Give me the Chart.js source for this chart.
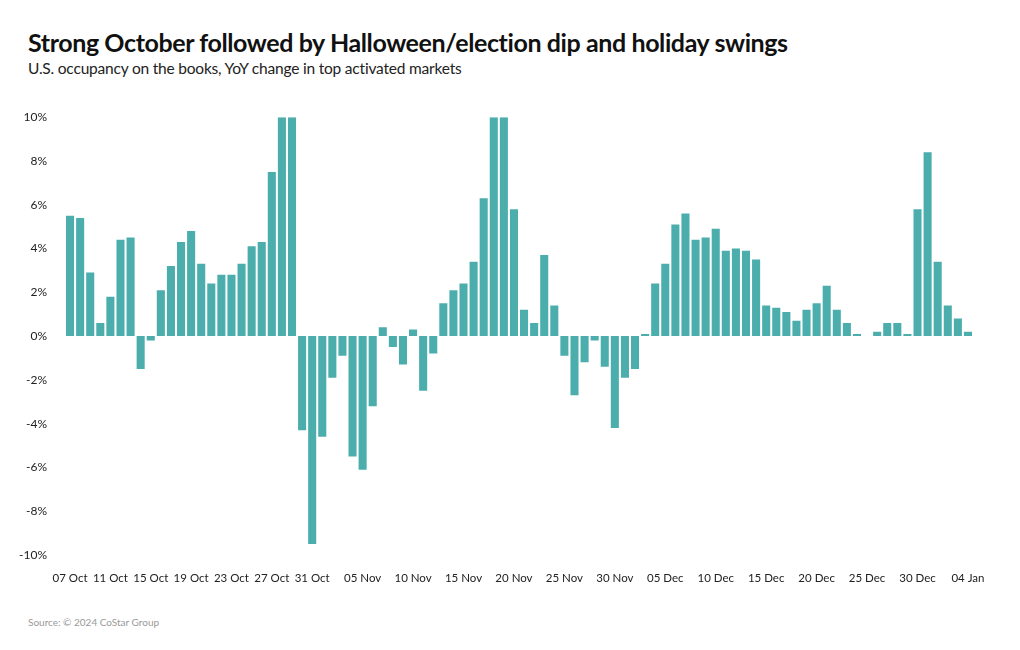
<!DOCTYPE html>
<html>
<head>
<meta charset="utf-8">
<script src="https://cdn.jsdelivr.net/npm/chart.js@4"></script>
<style>
    html, body { margin: 0; padding: 0; background: #fff; }
    body { width: 1020px; height: 650px; position: relative; overflow: hidden; font-family: Lato, 'Noto Sans', sans-serif; }
    #title { position: absolute; left: 28px; top: 27px; font-size: 25px; font-weight: 700; color: #111; letter-spacing: -0.4px; white-space: nowrap; }
    #subtitle { position: absolute; left: 28px; top: 59px; font-size: 15.5px; color: #222; letter-spacing: -0.2px; white-space: nowrap; }
    #source { position: absolute; left: 28px; top: 616px; font-size: 10px; color: #999; white-space: nowrap; }
    #wrap { position: absolute; left: 0; top: 100px; width: 1020px; height: 500px; }
</style>
</head>
<body>
<div id="title">Strong October followed by Halloween/election dip and holiday swings</div>
<div id="subtitle">U.S. occupancy on the books, YoY change in top activated markets</div>
<div id="wrap"><canvas id="chart"></canvas></div>
<div id="source">Source: © 2024 CoStar Group</div>
<script>
// Daily YoY change in occupancy on the books, 07 Oct – 04 Jan.
const DAYS_OCT = ['07 Oct', '08 Oct', '09 Oct', '10 Oct', '11 Oct', '12 Oct', '13 Oct', '14 Oct', '15 Oct', '16 Oct',
    '17 Oct', '18 Oct', '19 Oct', '20 Oct', '21 Oct', '22 Oct', '23 Oct', '24 Oct', '25 Oct', '26 Oct',
    '27 Oct', '28 Oct', '29 Oct', '30 Oct', '31 Oct'];
const DAYS_NOV = ['01 Nov', '02 Nov', '03 Nov', '04 Nov', '05 Nov', '06 Nov', '07 Nov', '08 Nov', '09 Nov', '10 Nov',
    '11 Nov', '12 Nov', '13 Nov', '14 Nov', '15 Nov', '16 Nov', '17 Nov', '18 Nov', '19 Nov', '20 Nov',
    '21 Nov', '22 Nov', '23 Nov', '24 Nov', '25 Nov', '26 Nov', '27 Nov', '28 Nov', '29 Nov', '30 Nov'];
const DAYS_DEC = ['01 Dec', '02 Dec', '03 Dec', '04 Dec', '05 Dec', '06 Dec', '07 Dec', '08 Dec', '09 Dec', '10 Dec',
    '11 Dec', '12 Dec', '13 Dec', '14 Dec', '15 Dec', '16 Dec', '17 Dec', '18 Dec', '19 Dec', '20 Dec',
    '21 Dec', '22 Dec', '23 Dec', '24 Dec', '25 Dec', '26 Dec', '27 Dec', '28 Dec', '29 Dec', '30 Dec', '31 Dec'];
const DAYS_JAN = ['01 Jan', '02 Jan', '03 Jan', '04 Jan'];

const VALUES_OCT = [5.5, 5.4, 2.9, 0.6, 1.8, 4.4, 4.5, -1.5, -0.2, 2.1,
    3.2, 4.3, 4.8, 3.3, 2.4, 2.8, 2.8, 3.3, 4.1, 4.3,
    7.5, 10, 10, -4.3, -9.5];
const VALUES_NOV = [-4.6, -1.9, -0.9, -5.5, -6.1, -3.2, 0.4, -0.5, -1.3, 0.3,
    -2.5, -0.8, 1.5, 2.1, 2.4, 3.4, 6.3, 10, 10, 5.8,
    1.2, 0.6, 3.7, 1.4, -0.9, -2.7, -1.2, -0.2, -1.4, -4.2];
const VALUES_DEC = [-1.9, -1.5, 0.1, 2.4, 3.3, 5.1, 5.6, 4.4, 4.5, 4.9,
    3.9, 4.0, 3.9, 3.5, 1.4, 1.3, 1.1, 0.7, 1.2, 1.5,
    2.3, 1.2, 0.6, 0.1, null, 0.2, 0.6, 0.6, 0.1, 5.8, 8.4];
const VALUES_JAN = [3.4, 1.4, 0.8, 0.2];

const TICK_LABELS = ['07 Oct', '11 Oct', '15 Oct', '19 Oct', '23 Oct', '27 Oct', '31 Oct',
    '05 Nov', '10 Nov', '15 Nov', '20 Nov', '25 Nov', '30 Nov',
    '05 Dec', '10 Dec', '15 Dec', '20 Dec', '25 Dec', '30 Dec', '04 Jan'];
const Y_TICKS = [-10, -8, -6, -4, -2, 0, 2, 4, 6, 8, 10];

const labels = [...DAYS_OCT, ...DAYS_NOV, ...DAYS_DEC, ...DAYS_JAN];
const values = [...VALUES_OCT, ...VALUES_NOV, ...VALUES_DEC, ...VALUES_JAN];

const TEAL = '#4caeac';
const TICK_COLOR = '#222';
const FONT = "Lato, 'Noto Sans', sans-serif";

new Chart(document.getElementById('chart').getContext('2d'), {
    type: 'bar',
    data: {
        labels,
        datasets: [{
            data: values,
            backgroundColor: TEAL,
            borderWidth: 0,
            barPercentage: 0.8,
            categoryPercentage: 1
        }]
    },
    options: {
        responsive: true,
        maintainAspectRatio: false,
        animation: false,
        layout: { padding: { top: 14, right: 47, left: 0, bottom: 0 } },
        plugins: { legend: { display: false }, tooltip: { enabled: false } },
        scales: {
            x: {
                grid: { display: false },
                border: { display: false },
                afterFit: s => { s.height = 45; },
                ticks: {
                    autoSkip: false,
                    maxRotation: 0,
                    padding: 8,
                    color: TICK_COLOR,
                    font: { family: FONT, size: 11.5 },
                    callback: function (v) {
                        const l = this.getLabelForValue(v);
                        return TICK_LABELS.includes(l) ? l : '';
                    }
                }
            },
            y: {
                min: -10,
                max: 10,
                grid: { display: false },
                border: { display: false },
                afterFit: s => { s.width = 65; },
                afterBuildTicks: s => { s.ticks = Y_TICKS.map(v => ({ value: v })); },
                ticks: {
                    padding: 10,
                    color: TICK_COLOR,
                    font: { family: FONT, size: 12 },
                    callback: v => v + '%'
                }
            }
        }
    }
});
</script>
</body>
</html>
